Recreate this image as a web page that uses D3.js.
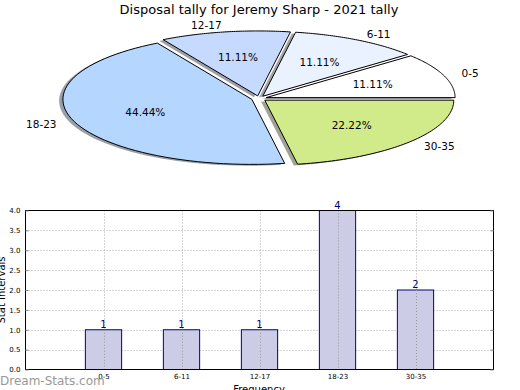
<!DOCTYPE html>
<html><head><meta charset="utf-8">
<script src="https://cdn.jsdelivr.net/npm/d3@7"></script>
<style>body{margin:0;background:#fff}svg{display:block;font-family:"DejaVu Sans",sans-serif}</style>
</head><body>
<svg id="c" width="520" height="390"></svg>
<script>
const title = "Disposal tally for Jeremy Sharp - 2021 tally";
const categories = ["0-5","6-11","12-17","18-23","30-35"];
const counts = [1,1,1,4,2];
const pieColors = ["#ffffff","#eaf1ff","#c6d9ff","#b4d6ff","#d1eb8b"];
const yTicks = [0,0.5,1,1.5,2,2.5,3,3.5,4];

const svg = d3.select("#c");
svg.append("text").attr("x",259).attr("y",14).attr("text-anchor","middle")
  .attr("font-size",13).text(title);

// ---- Pie (elliptical, matplotlib-style: start at 0 deg, counterclockwise) ----
const cx = 259, cy = 98.5, rx = 189, ry = 65, explode = 0.04;
const total = d3.sum(counts);
const pie = d3.pie().sort(null).startAngle(0).endAngle(2*Math.PI)(counts);
const sx = d3.scaleLinear().domain([-1,1]).range([cx-rx, cx+rx]);
const sy = d3.scaleLinear().domain([-1,1]).range([cy+ry, cy-ry]);
function wedgePath(a0, a1, ox, oy){
  const p = d3.path();
  p.moveTo(sx(ox), sy(oy));
  const n = 60;
  for(let i=0;i<=n;i++){
    const a = a0 + (a1-a0)*i/n;
    p.lineTo(sx(ox+Math.cos(a)), sy(oy+Math.sin(a)));
  }
  p.closePath();
  return p.toString();
}
const gPie = svg.append("g");
const wedges = pie.map((d,i)=>{
  const a0 = d.startAngle, a1 = d.endAngle, mid=(a0+a1)/2;
  return {i, a0, a1, mid, ox: explode*Math.cos(mid), oy: explode*Math.sin(mid)};
});
wedges.forEach(w=>{
  const c = d3.color(pieColors[w.i]);
  gPie.append("path").attr("d", wedgePath(w.a0,w.a1,w.ox-0.02,w.oy-0.02))
    .attr("fill", d3.rgb(c.r*0.3,c.g*0.3,c.b*0.3)).attr("fill-opacity",0.5);
  gPie.append("path").attr("d", wedgePath(w.a0,w.a1,w.ox,w.oy))
    .attr("fill", pieColors[w.i]).attr("stroke","#000").attr("stroke-width",1)
    .attr("stroke-linejoin","round");
});
wedges.forEach(w=>{
  const lx = w.ox + 1.1*Math.cos(w.mid), ly = w.oy + 1.1*Math.sin(w.mid);
  gPie.append("text").attr("x",sx(lx)).attr("y",sy(ly)).attr("dy","0.35em")
    .attr("text-anchor", Math.cos(w.mid)>0 ? "start":"end").attr("font-size",10.5)
    .text(categories[w.i]);
  const px = w.ox + 0.6*Math.cos(w.mid), py = w.oy + 0.6*Math.sin(w.mid);
  gPie.append("text").attr("x",sx(px)).attr("y",sy(py)).attr("dy","0.35em")
    .attr("text-anchor","middle").attr("font-size",10.5)
    .text((counts[w.i]/total*100).toFixed(2)+"%");
});

// ---- Bar chart ----
const L=25.5, R=493.5, T=210.5, B=369.5;
const x = d3.scaleLinear().domain([-1,5]).range([L,R]);
const y = d3.scaleLinear().domain([0,4]).range([B,T]);
const gB = svg.append("g");
// grid
gB.selectAll(".gy").data(yTicks.slice(1,-1)).join("line")
  .attr("x1",L).attr("x2",R).attr("y1",d=>Math.round(y(d))+0.5).attr("y2",d=>Math.round(y(d))+0.5)
  .attr("stroke","#aaa").attr("stroke-dasharray","1,2").attr("stroke-width",1);
gB.selectAll(".gx").data(categories).join("line")
  .attr("x1",(d,i)=>Math.round(x(i))+0.5).attr("x2",(d,i)=>Math.round(x(i))+0.5).attr("y1",T).attr("y2",B)
  .attr("stroke","#aaa").attr("stroke-dasharray","1,2").attr("stroke-width",1);
// bars
const bw = 0.465;
gB.selectAll(".bar").data(counts).join("rect")
  .attr("x",(d,i)=>x(i-bw/2)).attr("width",x(bw)-x(0))
  .attr("y",d=>y(d)).attr("height",d=>y(0)-y(d))
  .attr("fill","#cccce6").attr("stroke","#000080").attr("stroke-width",1);
// grid over bars
gB.selectAll(".gx2").data(categories).join("line")
  .attr("x1",(d,i)=>Math.round(x(i))+0.5).attr("x2",(d,i)=>Math.round(x(i))+0.5)
  .attr("y1",(d,i)=>y(counts[i])).attr("y2",B)
  .attr("stroke","#999").attr("stroke-dasharray","1,2").attr("stroke-width",1);
gB.selectAll(".val").data(counts).join("text")
  .attr("x",(d,i)=>x(i)).attr("y",d=>y(d)-2).attr("text-anchor","middle")
  .attr("font-size",10).attr("fill","#000080").text(d=>d);
// frame
gB.append("rect").attr("x",L).attr("y",T).attr("width",R-L).attr("height",B-T)
  .attr("fill","none").attr("stroke","#000").attr("stroke-width",1);
// axes ticks
const yAx = d3.axisLeft(y).tickValues(yTicks).tickFormat(d3.format(".1f")).tickSize(-3).tickPadding(5);
gB.append("g").attr("transform",`translate(${L},0)`).call(yAx)
  .call(g=>{g.select(".domain").remove(); g.selectAll("text").attr("font-size",7).attr("font-family","DejaVu Sans"); g.selectAll("line").attr("stroke","#888");});
gB.append("g").attr("transform",`translate(${R},0)`).call(d3.axisRight(y).tickValues(yTicks).tickSize(-3).tickFormat(""))
  .call(g=>{g.select(".domain").remove(); g.selectAll("line").attr("stroke","#888");});
const xAx = d3.axisBottom(x).tickValues(d3.range(categories.length)).tickFormat(i=>categories[i]).tickSize(0).tickPadding(5);
gB.append("g").attr("transform",`translate(0,${B})`).call(xAx)
  .call(g=>{g.select(".domain").remove(); g.selectAll("text").attr("font-size",7).attr("font-family","DejaVu Sans");});
svg.append("text").attr("x",259).attr("y",393).attr("text-anchor","middle").attr("font-size",10).text("Frequency");
svg.append("text").attr("transform","translate(5,290) rotate(-90)").attr("text-anchor","middle").attr("font-size",10).text("Stat Intervals");
svg.append("text").attr("x",0).attr("y",385).attr("font-size",12).attr("fill","#999").text("Dream-Stats.com");
</script>
</body></html>
